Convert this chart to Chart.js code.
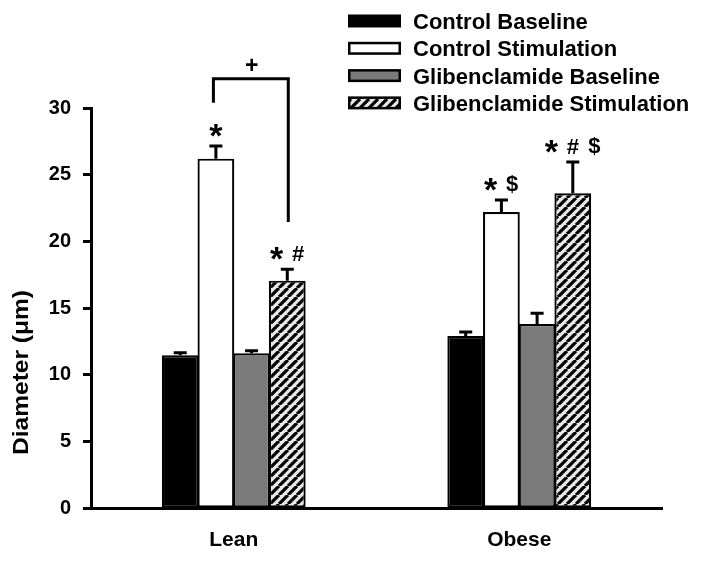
<!DOCTYPE html>
<html><head><meta charset="utf-8">
<script src="https://cdn.jsdelivr.net/npm/chart.js@4/dist/chart.umd.min.js"></script>
<style>html,body{margin:0;padding:0;background:#fff}#wrap{width:701px;height:562px}</style>
</head><body><div id="wrap"><canvas id="c" width="701" height="562"></canvas></div>
<script>
// ---- data ----
const categories = ['Lean', 'Obese'];
const seriesNames = ['Control Baseline', 'Control Stimulation', 'Glibenclamide Baseline', 'Glibenclamide Stimulation'];
const controlBaseline = [11.45, 12.9];
const controlStimulation = [26.2, 22.2];
const glibBaseline = [11.6, 13.8];
const glibStimulation = [17.05, 23.6];
const controlBaselineErr = [0.2, 0.3];
const controlStimulationErr = [0.95, 0.9];
const glibBaselineErr = [0.2, 0.8];
const glibStimulationErr = [0.85, 2.35];
const controlBaselineMarks = ['', ''];
const controlStimulationMarks = ['*', '* $'];
const glibBaselineMarks = ['', ''];
const glibStimulationMarks = ['* #', '* # $'];
const yTickValues = [0, 5, 10, 15, 20, 25, 30];
const yTitle = 'Diameter (μm)';
const bracketText = '+';
const bracketLevel = 32.2, bracketFromEnd = 30.4, bracketToEnd = 21.45; // in data units

const FONT = "'Liberation Sans', Arial, sans-serif";

function hatchPattern() {
  const s = 9, p = document.createElement('canvas');
  p.width = s; p.height = s;
  const g = p.getContext('2d');
  g.fillStyle = '#e8e8e8'; g.fillRect(0, 0, s, s);
  g.strokeStyle = '#000'; g.lineWidth = 3.2;
  g.beginPath();
  for (let k = -1; k <= 1; k++) { g.moveTo(k * s, s); g.lineTo(k * s + s, 0); }
  g.stroke();
  return document.getElementById('c').getContext('2d').createPattern(p, 'repeat');
}
const hatch = hatchPattern();

const datasets = [
  { label: seriesNames[0], data: controlBaseline, errors: controlBaselineErr, marks: controlBaselineMarks, backgroundColor: '#000000' },
  { label: seriesNames[1], data: controlStimulation, errors: controlStimulationErr, marks: controlStimulationMarks, backgroundColor: '#ffffff' },
  { label: seriesNames[2], data: glibBaseline, errors: glibBaselineErr, marks: glibBaselineMarks, backgroundColor: '#7a7a7a' },
  { label: seriesNames[3], data: glibStimulation, errors: glibStimulationErr, marks: glibStimulationMarks, backgroundColor: hatch }
].map(d => Object.assign(d, { borderColor: '#000', borderWidth: 2.2, borderSkipped: false, barPercentage: 1.03, categoryPercentage: 0.5 }));

const extras = {
  id: 'extras',
  afterDatasetsDraw(chart) {
    const ctx = chart.ctx, y = chart.scales.y;
    ctx.save();
    ctx.strokeStyle = '#000'; ctx.fillStyle = '#000'; ctx.lineCap = 'butt';
    chart.data.datasets.forEach((ds, i) => {
      const meta = chart.getDatasetMeta(i);
      meta.data.forEach((bar, j) => {
        const v = ds.data[j], e = ds.errors[j];
        const top = y.getPixelForValue(v), cap = y.getPixelForValue(v + e);
        ctx.lineWidth = 3;
        ctx.beginPath();
        ctx.moveTo(bar.x, top); ctx.lineTo(bar.x, cap);
        ctx.moveTo(bar.x - 6.5, cap); ctx.lineTo(bar.x + 6.5, cap);
        ctx.stroke();
        const marks = ds.marks[j];
        if (marks) {
          const toks = marks.split(' ');
          const cy = cap - 15.5;
          toks.forEach((t, k) => {
            ctx.font = (t === '*' ? 'bold 34px ' : 'bold 22px ') + FONT;
            ctx.textAlign = 'center'; ctx.textBaseline = 'alphabetic';
            const m = ctx.measureText(t);
            const by = cy + (m.actualBoundingBoxAscent - m.actualBoundingBoxDescent) / 2;
            ctx.fillText(t, bar.x + (k - (toks.length - 1) / 2) * 21.5, by);
          });
        }
      });
    });
    // bracket between Control Stimulation and Glibenclamide Stimulation (Lean)
    const b1 = chart.getDatasetMeta(1).data[0], b3 = chart.getDatasetMeta(3).data[0];
    const lv = y.getPixelForValue(bracketLevel);
    ctx.lineWidth = 3;
    ctx.beginPath();
    ctx.moveTo(b1.x - 2.5, y.getPixelForValue(bracketFromEnd));
    ctx.lineTo(b1.x - 2.5, lv);
    ctx.lineTo(b3.x + 1, lv);
    ctx.lineTo(b3.x + 1, y.getPixelForValue(bracketToEnd));
    ctx.stroke();
    ctx.font = 'bold 23px ' + FONT; ctx.textAlign = 'center';
    const mp = ctx.measureText(bracketText);
    ctx.fillText(bracketText, (b1.x + b3.x) / 2, lv - 14 + (mp.actualBoundingBoxAscent - mp.actualBoundingBoxDescent) / 2);
    ctx.restore();
  },
  afterDraw(chart) {
    const ctx = chart.ctx;
    ctx.save();
    // legend
    chart.data.datasets.forEach((ds, i) => {
      const cy = 21 + i * 27.3;
      const bx = 348, bw = 53, bh = 13;
      ctx.fillStyle = '#000';
      ctx.fillRect(bx, cy - bh / 2, bw, bh);
      ctx.fillStyle = ds.backgroundColor;
      ctx.fillRect(bx + 2.5, cy - bh / 2 + 2.5, bw - 5, bh - 5);
      ctx.fillStyle = '#000';
      ctx.font = 'bold 22px ' + FONT;
      ctx.textAlign = 'left'; ctx.textBaseline = 'alphabetic';
      ctx.fillText(ds.label, 413, cy + 7.9);
    });
    // y title
    ctx.translate(20.5, 372.5);
    ctx.rotate(-Math.PI / 2);
    ctx.font = 'bold 22px ' + FONT;
    const w = ctx.measureText(yTitle).width;
    ctx.scale(165 / w, 1);
    ctx.textAlign = 'center'; ctx.textBaseline = 'alphabetic';
    ctx.fillStyle = '#000';
    ctx.fillText(yTitle, 0, 7.9);
    ctx.restore();
  }
};

Chart.defaults.font.family = FONT;
Chart.defaults.font.weight = 'bold';
Chart.defaults.color = '#000';

new Chart(document.getElementById('c'), {
  type: 'bar',
  data: { labels: categories, datasets },
  options: {
    responsive: false,
    animation: false,
    layout: { padding: { top: 108, right: 39, bottom: 0, left: 0 } },
    plugins: { legend: { display: false }, tooltip: { enabled: false } },
    scales: {
      x: {
        grid: { display: true, drawOnChartArea: false, drawTicks: false },
        border: { display: true, color: '#000', width: 3 },
        ticks: { padding: 20, font: { size: 21, weight: 'bold' }, color: '#000' },
        afterFit(s) { s.height = 54; }
      },
      y: {
        min: 0, max: 30,
        afterBuildTicks(s) { s.ticks = yTickValues.map(v => ({ value: v })); },
        grid: { display: true, drawOnChartArea: false, drawTicks: true, tickLength: 8, tickWidth: 3, tickColor: '#000' },
        border: { display: true, color: '#000', width: 3 },
        ticks: { padding: 12, font: { size: 20, weight: 'bold' }, color: '#000' },
        afterFit(s) { s.width = 91; }
      }
    }
  },
  plugins: [extras]
});
</script>
</body></html>
